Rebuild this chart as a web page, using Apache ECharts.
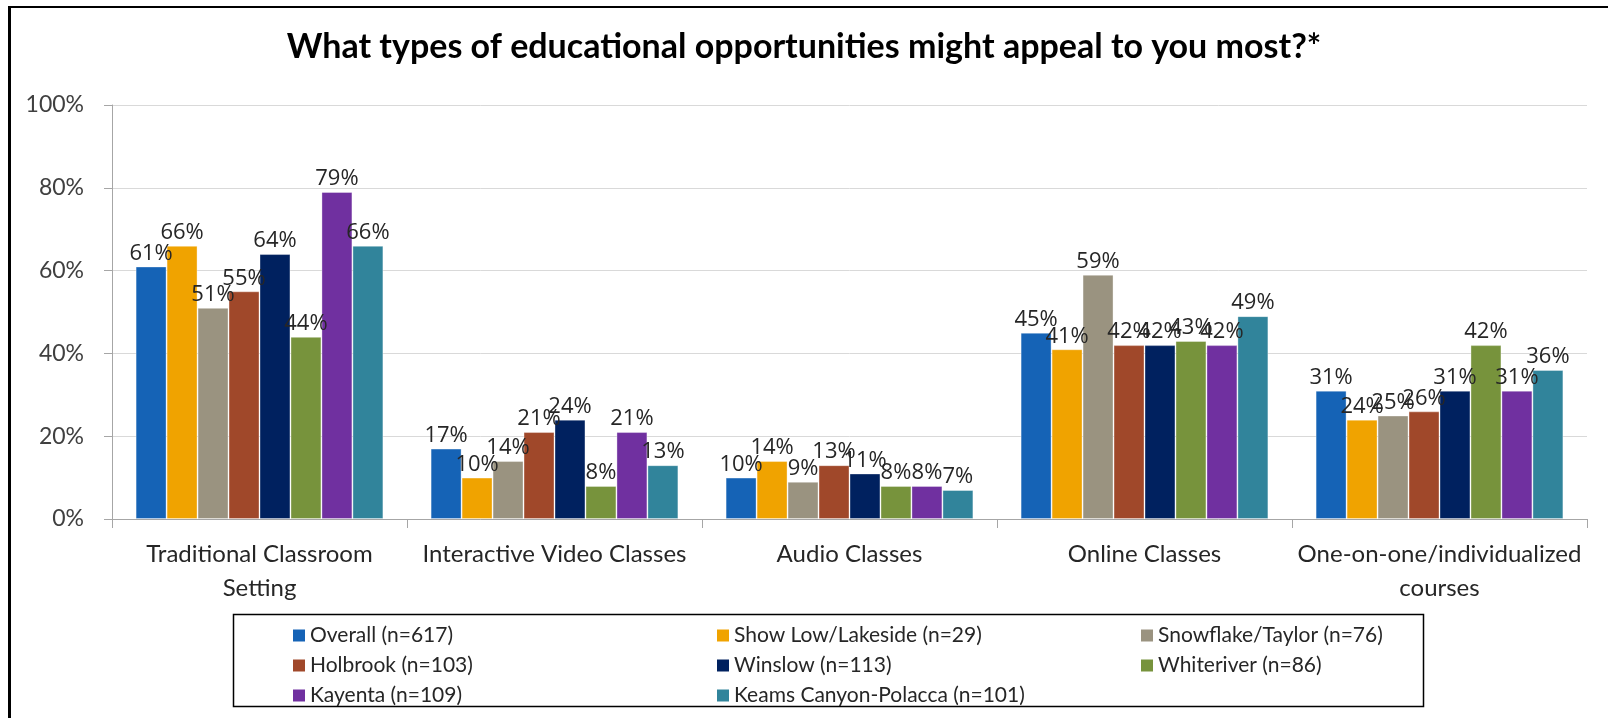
<!DOCTYPE html>
<html>
<head>
<meta charset="utf-8">
<script src="https://cdn.jsdelivr.net/npm/echarts@6/dist/echarts.min.js"></script>
<style>
  html, body { margin: 0; padding: 0; background: #fff; }
  #chart { width: 1608px; height: 718px; }
</style>
</head>
<body>
<div id="chart"></div>
<script>
// Survey question and answer categories
const chartTitle = 'What types of educational opportunities might appeal to you most?*';
const categories = [
  'Traditional Classroom\nSetting',
  'Interactive Video Classes',
  'Audio Classes',
  'Online Classes',
  'One-on-one/individualized\ncourses'
];

// Share of respondents (%) per community, one value per category
const overall      = [61, 17, 10, 45, 31];
const showLow      = [66, 10, 14, 41, 24];
const snowflake    = [51, 14,  9, 59, 25];
const holbrook     = [55, 21, 13, 42, 26];
const winslow      = [64, 24, 11, 42, 31];
const whiteriver   = [44,  8,  8, 43, 42];
const kayenta      = [79, 21,  8, 42, 31];
const keamsCanyon  = [66, 13,  7, 49, 36];

const seriesNames = [
  'Overall (n=617)',
  'Show Low/Lakeside (n=29)',
  'Snowflake/Taylor (n=76)',
  'Holbrook (n=103)',
  'Winslow (n=113)',
  'Whiteriver (n=86)',
  'Kayenta (n=109)',
  'Keams Canyon-Polacca (n=101)'
];
const seriesValues = [overall, showLow, snowflake, holbrook, winslow, whiteriver, kayenta, keamsCanyon];
const seriesColors = ['#1563B6', '#F0A300', '#9A9380', '#A0482A', '#00215F', '#77933C', '#7030A0', '#31849B'];

// Y axis ticks (percent)
const yMin = 0, yMax = 100, yStep = 20;

const textFont = 'Lato';
const labelFont = 'Open Sans';

const chart = echarts.init(document.getElementById('chart'), null, { renderer: 'canvas' });

const series = seriesNames.map((name, i) => ({
  name: name,
  type: 'bar',
  data: seriesValues[i],
  barGap: '0%',
  barCategoryGap: '16%',
  itemStyle: { color: seriesColors[i], borderColor: 'rgba(255,255,255,0.35)', borderWidth: 1 },
  label: {
    show: true,
    position: 'top',
    distance: 2,
    formatter: '{c}%',
    color: '#262626',
    fontFamily: labelFont,
    fontSize: 22
  },
  emphasis: { disabled: true }
}));

chart.setOption({
  animation: false,
  backgroundColor: '#ffffff',
  title: {
    text: chartTitle,
    left: 'center',
    top: 25,
    textStyle: { fontFamily: textFont, fontWeight: 'bold', fontSize: 34, color: '#000' }
  },
  grid: { left: 112, right: 21, top: 105, bottom: 199, containLabel: false },
  legend: {
    left: 288,
    top: 620,
    width: 1300,
    orient: 'horizontal',
    itemWidth: 12,
    itemHeight: 12,
    itemGap: 9,
    icon: 'rect',
    data: seriesNames,
    textStyle: {
      fontFamily: textFont,
      fontSize: 21,
      color: '#262626',
      width: 398,
      height: 21,
      lineHeight: 21,
      padding: [0, 0, 0, 0]
    },
    itemStyle: { borderWidth: 0 }
  },
  xAxis: {
    type: 'category',
    data: categories,
    axisLine: { lineStyle: { color: '#A6A6A6', width: 1 } },
    axisTick: { show: true, length: 9, lineStyle: { color: '#A6A6A6' } },
    axisLabel: {
      interval: 0,
      margin: 18,
      fontFamily: textFont,
      fontSize: 24,
      lineHeight: 34,
      color: '#262626'
    }
  },
  yAxis: {
    type: 'value',
    min: yMin,
    max: yMax,
    interval: yStep,
    axisLine: { show: true, lineStyle: { color: '#A6A6A6', width: 1 } },
    axisTick: { show: true, length: 8, lineStyle: { color: '#A6A6A6' } },
    splitLine: { lineStyle: { color: '#D9D9D9', width: 1 } },
    axisLabel: {
      formatter: '{value}%',
      margin: 28,
      fontFamily: textFont,
      fontSize: 23,
      color: '#404040'
    }
  },
  graphic: [
    // outer frame (left and top edges)
    { type: 'line', shape: { x1: 9.5, y1: 6, x2: 9.5, y2: 718 }, style: { stroke: '#000', lineWidth: 3 } },
    { type: 'line', shape: { x1: 8, y1: 7, x2: 1608, y2: 7 }, style: { stroke: '#000', lineWidth: 2 } },
    // legend frame
    { type: 'rect', shape: { x: 233.5, y: 614.5, width: 1190, height: 92 }, style: { fill: 'none', stroke: '#000', lineWidth: 1.5 }, z: 0 }
  ],
  series: series
});
</script>
</body>
</html>
